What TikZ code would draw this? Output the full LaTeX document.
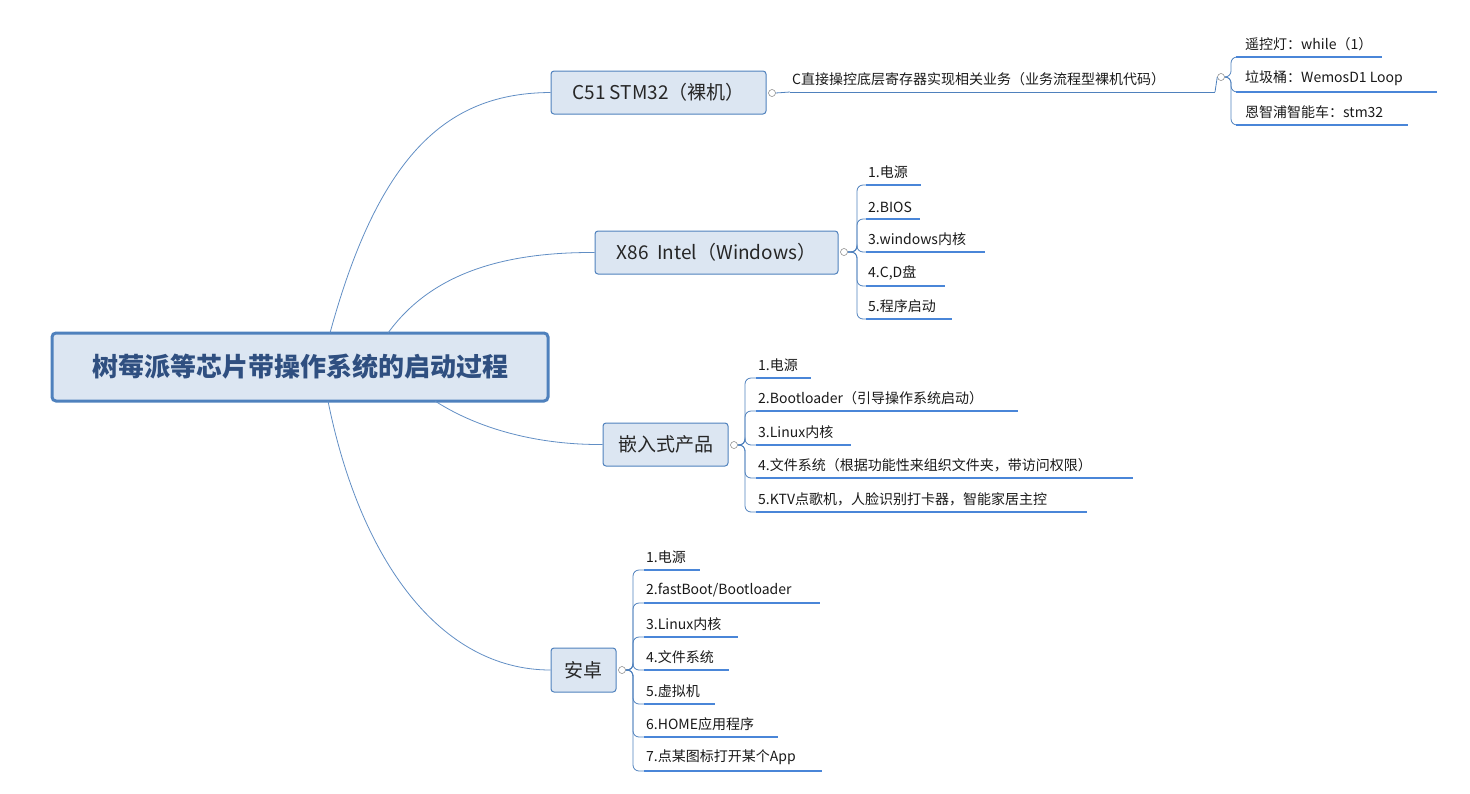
\documentclass[tikz,border=0pt]{standalone}
\usepackage{fontspec}
\setmainfont{Noto Sans CJK SC}
\definecolor{bfill}{HTML}{DCE6F2}
\definecolor{bline}{HTML}{4F81BD}
\definecolor{uline}{HTML}{4A86D8}
\definecolor{rtext}{HTML}{2F4F80}
\begin{document}
\begin{tikzpicture}[x=1pt,y=-1pt,
  conn/.style={draw=bline!90,line width=0.8pt},
  ln/.style={draw=bline,line width=0.8pt},
  ul/.style={draw=uline,line width=1.8pt},
  sub/.style={draw=bline,fill=bfill,line width=1pt,rounded corners=3pt,
    font=\fontsize{19}{22}\selectfont,text=black!85,inner sep=0pt},
  leaf/.style={anchor=south west,inner xsep=2pt,inner ysep=6pt,font=\fontsize{14}{16}\selectfont,text=black!90},
  knob/.style={circle,draw=black!50,line width=0.5pt,fill=white,inner sep=0pt,minimum size=7pt}]
\useasboundingbox (0,0) rectangle (1470,793);
\node[draw=bline,fill=bfill,line width=3pt,rounded corners=4pt,
  minimum width=496,minimum height=68,font=\fontsize{26}{30}\selectfont\bfseries,text=rtext] (root) at (300,367) {树莓派等芯片带操作系统的启动过程};
\node[sub,minimum width=215,minimum height=43] (c51) at (658.5,92.5) {C51 STM32（裸机）};
\node[sub,minimum width=243,minimum height=43] (x86) at (716.5,252.5) {X86\ \ Intel（Windows）};
\node[sub,minimum width=125,minimum height=43] (emb) at (665.5,444.5) {嵌入式产品};
\node[sub,minimum width=65,minimum height=44] (and) at (583.5,670) {安卓};
\draw[conn] (330,333) .. controls (380,150) and (450,93) .. (c51.west);
\draw[conn] (388,333) .. controls (430,275) and (500,252) .. (x86.west);
\draw[conn] (435,401) .. controls (480,430) and (540,445) .. (emb.west);
\draw[conn] (328,401) .. controls (360,560) and (440,670) .. (and.west);
% C51
\node[knob] (k1) at (772,93) {};
\node[leaf] (cl) at (790,92) {C直接操控底层寄存器实现相关业务（业务流程型裸机代码）};
\draw[ln] (k1.east) -- (cl.south west);
\draw[ln] (cl.south west) -- (1215,92);
\node[knob] (k2) at (1221,77) {};
\draw[ln] (1215,92) -- (k2.west);
\foreach \n/\y/\e/\t in {a/57/1382/{遥控灯：while（1）},b/92/1437/{垃圾桶：WemosD1 Loop},c/125/1408/{恩智浦智能车：stm32}}{
  \node[leaf] (c\n) at (1243,\y) {\t};
  \draw[ln,rounded corners=6pt] (k2.east) -- (1231,77) |- (1237,\y);
  \draw[ul] (1236,\y) -- (\e,\y);
}
% X86
\node[knob] (k3) at (844,252) {};
\foreach \n/\y/\e/\t in {1/185/921/{1.电源},2/219/920/{2.BIOS},3/252/985/{3.windows内核},4/286/945/{4.C,D盘},5/319/952/{5.程序启动}}{
  \node[leaf] (x\n) at (866,\y) {\t};
  \draw[ln,rounded corners=6pt] (k3.east) -- (857,252) |- (x\n.south west);
  \draw[ul] (x\n.south west) -- (\e,\y);
}
% Embedded
\node[knob] (k4) at (734,445) {};
\foreach \n/\y/\e/\t in {1/378/811/{1.电源},2/411/1018/{2.Bootloader（引导操作系统启动）},3/445/851/{3.Linux内核},4/478/1133/{4.文件系统（根据功能性来组织文件夹，带访问权限）},5/512/1087/{5.KTV点歌机，人脸识别打卡器，智能家居主控}}{
  \node[leaf] (e\n) at (756,\y) {\t};
  \draw[ln,rounded corners=6pt] (k4.east) -- (745,445) |- (e\n.south west);
  \draw[ul] (e\n.south west) -- (\e,\y);
}
% Android
\node[knob] (k5) at (622,670) {};
\foreach \n/\y/\e/\t in {1/570/700/{1.电源},2/603/820/{2.fastBoot/Bootloader},3/637/738/{3.Linux内核},4/670/729/{4.文件系统},5/704/715/{5.虚拟机},6/737/778/{6.HOME应用程序},7/771/822/{7.点某图标打开某个App}}{
  \node[leaf] (a\n) at (644,\y) {\t};
  \draw[ln,rounded corners=6pt] (k5.east) -- (633,670) |- (a\n.south west);
  \draw[ul] (a\n.south west) -- (\e,\y);
}
\end{tikzpicture}
\end{document}
